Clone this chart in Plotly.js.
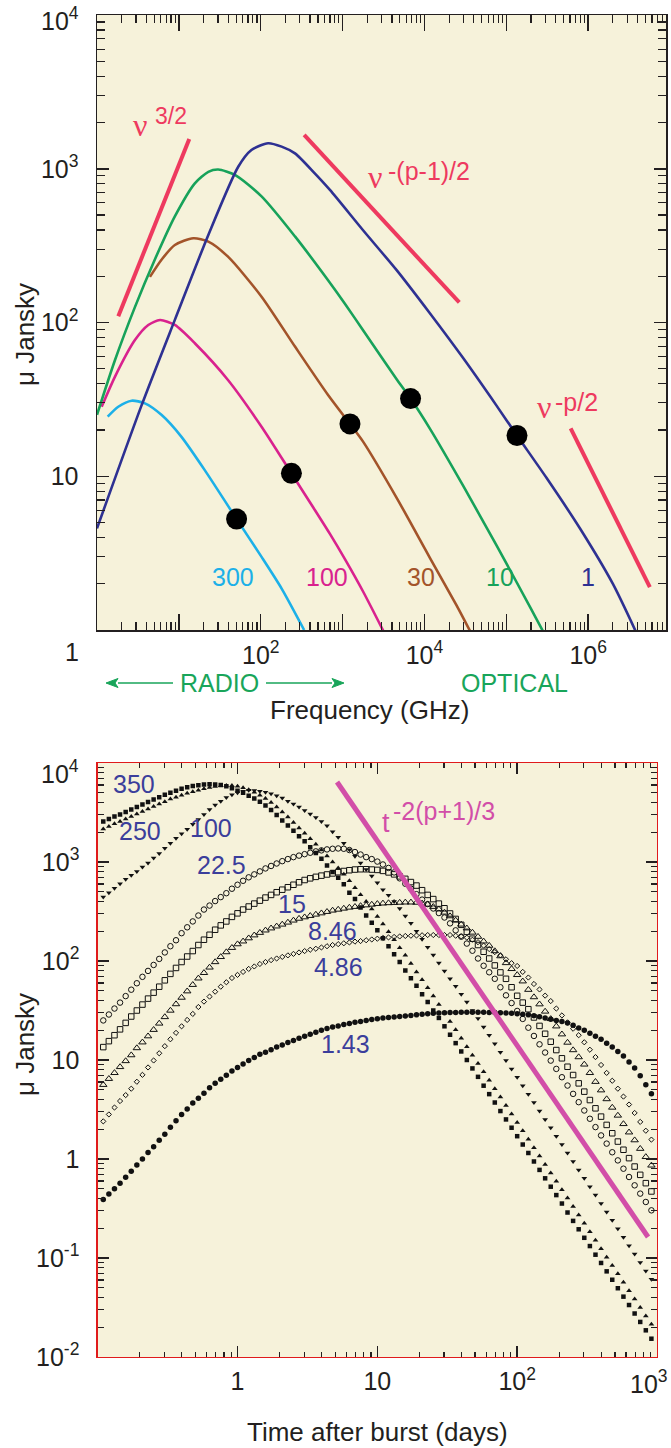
<!DOCTYPE html>
<html><head><meta charset="utf-8">
<script src="https://cdn.plot.ly/plotly-3.0.1.min.js"></script>
<style>html,body{margin:0;padding:0;background:#fff}#chart{width:671px;height:1448px}</style>
</head><body><div id="chart"></div>
<script>
// ===== Top panel: spectra (frequency in GHz, flux in micro-Jansky) =====
const nu_day1   = [1.0, 3.51, 8.93, 22.9, 53.1, 76.9, 123, 180, 262, 457, 700, 1778, 4571, 11640, 29510, 75860, 134900, 309000, 794300, 1995000, 3890000];
const flux_day1 = [4.58, 29.0, 104, 371, 1030, 1324, 1466, 1393, 1259, 933, 728, 398, 219, 114.8, 58.9, 28.8, 18.4, 9.77, 4.57, 2.0, 0.955];
const nu_day10   = [1.0, 1.66, 2.904, 5.09, 8.93, 15.67, 22.9, 30.2, 48.4, 102.3, 262, 661, 1072, 1778, 4571, 6761, 11640, 29510, 75860, 195000, 323600];
const flux_day10 = [25.1, 57.0, 125.9, 257, 490, 804, 955, 989, 912, 661, 363, 189, 132, 89.1, 42.7, 32.0, 20.4, 8.71, 3.55, 1.41, 0.85];
const nu_day30   = [4.43, 6.17, 8.93, 15.0, 22.9, 39.8, 102.3, 262, 661, 1230, 1778, 4571, 11640, 24550, 39810];
const flux_day30 = [198, 257, 319, 353, 336, 268, 147.2, 69.7, 33.9, 21.9, 16.8, 7.24, 2.95, 1.45, 0.89];
const nu_day100   = [1.14, 1.66, 2.904, 4.23, 5.89, 8.93, 15.67, 39.8, 102.3, 237, 417, 700, 1072, 1778, 3162];
const flux_day100 = [28.3, 44.5, 76.9, 96.4, 103.8, 96.4, 73.3, 42.3, 21.0, 10.45, 6.53, 4.22, 2.88, 1.78, 0.98];
const nu_day300   = [1.35, 1.82, 2.65, 3.85, 6.17, 10.7, 20.7, 50.7, 102.3, 180, 339];
const flux_day300 = [24.4, 28.3, 31.0, 29.8, 25.0, 18.1, 10.96, 5.27, 2.99, 1.86, 1.0];
const dot_nu   = [50.7, 237, 1230, 6761, 134900];
const dot_flux = [5.27, 10.45, 21.9, 32.0, 18.4];
const slope_thick_nu = [1.82, 13.4],      slope_thick_flux = [110, 1560];
const slope_thin_nu  = [339, 26600],      slope_thin_flux  = [1660, 135];
const slope_cool_nu  = [610000, 5660000], slope_cool_flux  = [20.5, 1.90];
const curve_labels = ['300', '100', '30', '10', '1'];

// ===== Bottom panel: light curves (days, micro-Jansky) =====
const t_days = [0.1096,0.1202,0.1318,0.1445,0.1585,0.1738,0.1905,0.2089,0.2291,0.2512,0.2754,0.3020,0.3311,0.3631,0.3981,0.4365,0.4786,0.5248,0.5754,0.6310,0.6918,0.7586,0.8318,0.9120,
 1.000,1.096,1.202,1.318,1.445,1.585,1.738,1.905,2.089,2.291,2.512,2.754,3.020,3.311,3.631,3.981,4.365,4.786,5.248,5.754,6.310,6.918,7.586,8.318,9.120,
 10.00,10.96,12.02,13.18,14.45,15.85,17.38,19.05,20.89,22.91,25.12,27.54,30.20,33.11,36.31,39.81,43.65,47.86,52.48,57.54,63.10,69.18,75.86,83.18,91.20,
 100.0,109.6,120.2,131.8,144.5,158.5,173.8,190.5,208.9,229.1,251.2,275.4,302.0,331.1,363.1,398.1,436.5,478.6,524.8,575.4,631.0,691.8,758.6,831.8,912.0];
const f_350 = [2570,2720,2880,3020,3200,3390,3590,3800,4030,4270, 4520,4790,5010,5250,5500,5690,5850,5970,6050,6100,
 6070,5980,5820,5560,5250,5010,4680,4370,4070,3720, 3350,2990,2630,2340,2070,1820,1620,1410,1230,1080,
 923,794,692,596,490,422,347,288,243,204, 170,141,117,97.7,80.4,66.8,56.2,46.2,38.5,31.6,
 26.6,21.9,18.0,14.8,12.2,10.0,8.22,6.76,5.50,4.52, 3.72,3.05,2.51,2.07,1.70,1.40,1.15,0.944,0.776,0.638,
 0.525,0.432,0.355,0.288,0.237,0.195,0.160,0.132,0.108,0.0891, 0.0733,0.0603,0.0495,0.0407,0.0335,0.0275,0.0226,0.0186,0.0153];
const f_250 = [2160,2290,2430,2570,2720,2880,3050,3240,3430,3630, 3850,4070,4320,4520,4730,4950,5130,5310,5500,5650,
 5780,5890,5940,5920,5820,5620,5370,5070,4730,4370, 3980,3590,3200,2850,2510,2210,1950,1720,1510,1320,
 1150,1000,871,750,646,550,468,398,335,282, 237,197,164,136,114,94.4,77.6,64.6,53.7,44.2,
 36.3,29.9,24.5,20.2,16.6,13.6,11.2,9.23,7.59,6.24, 5.13,4.22,3.47,2.85,2.34,1.93,1.58,1.30,1.07,0.881,
 0.724,0.596,0.490,0.403,0.331,0.272,0.224,0.184,0.151,0.124, 0.102,0.0841,0.0692,0.0569,0.0468,0.0385,0.0316,0.0260,0.0214];
const f_100 = [442,490,543,603,668,733,804,891,977,1100, 1220,1380,1550,1740,1930,2140,2400,2690,3020,3390,
 3760,4120,4470,4790,5010,5190,5310,5270,5190,5050, 4880,4660,4420,4120,3850,3590,3310,3050,2820,2570,
 2320,2020,1780,1550,1330,1140,977,841,724,617, 525,462,398,339,285,240,200,166,138,115,
 95.5,79.4,66.1,55.6,46.2,38.5,31.6,26.3,21.6,17.8, 14.6,12.0,9.89,8.13,6.68,5.50,4.52,3.72,3.05,2.51,
 2.07,1.70,1.40,1.15,0.944,0.776,0.638,0.525,0.432,0.355, 0.292,0.240,0.197,0.162,0.133,0.110,0.0902,0.0741,0.0610];
const f_22_5 = [25.1,28.8,33.1,38.0,44.2,51.3,59.6,69.2,79.4,91.2, 105,122,141,162,191,219,251,288,331,363,
 403,442,484,537,589,646,700,750,804,861, 912,966,1020,1070,1120,1160,1200,1240,1280,1310,
 1340,1360,1370,1360,1320,1260,1190,1120,1070,1010, 944,871,785,684,603,537,473,417,376,339,
 305,275,240,204,176,150,127,106,89.5,76.9, 66.1,54.3,45.0,37.6,31.3,26.0,21.2,17.5,14.4,11.9,
 9.86,8.13,6.70,5.52,4.55,3.75,3.09,2.55,2.10,1.73, 1.43,1.17,0.968,0.798,0.658,0.542,0.447,0.368,0.303];
const f_15 = [13.5,15.5,17.8,20.4,23.7,27.5,31.6,36.3,41.7,47.9, 55.0,63.8,74.1,85.1,97.7,111,126,145,164,184,
 207,229,251,279,303,331,355,380,407,437, 465,495,525,556,589,624,658,684,708,728,
 748,767,789,811,826,839,845,845,839,832, 813,785,750,716,676,627,578,519,465,422,
 380,341,302,266,232,197,168,145,124,106, 90.2,76.7,66.1,54.3,44.5,38.0,32.6,26.9,22.1,18.4,
 15.3,12.6,10.4,8.55,7.05,5.81,4.79,3.94,3.25,2.68, 2.21,1.82,1.50,1.24,1.02,0.839,0.692,0.570,0.470];
const f_8_46 = [5.62,6.46,7.41,8.51,9.77,11.2,13.2,15.1,17.4,20.2, 23.4,27.2,31.6,36.7,42.7,49.5,57.5,66.8,75.9,86.1,
 97.7,110,123,136,148,158,170,182,193,204, 214,224,234,245,257,268,277,286,295,304,
 314,324,331,339,347,353,360,366,372,378, 382,385,387,389,391,391,389,382,372,353,
 333,309,284,257,234,214,194,176,158,143, 126,112,95.5,83.2,72.4,62.4,51.3,43.2,36.6,30.9,
 26.0,21.9,18.2,15.0,12.6,10.7,9.02,7.41,6.03,4.95, 4.03,3.31,2.75,2.26,1.86,1.55,1.27,1.05,0.861];
const f_4_86 = [2.40,2.82,3.31,3.85,4.42,5.13,6.03,7.08,8.41,9.89, 11.7,13.8,16.2,18.8,21.9,25.4,29.2,34.3,38.9,43.7,
 49.0,55.0,61.0,67.3,72.4,77.6,83.2,88.1,93.3,97.7, 102,106,110,114,118,122,126,130,133,137,
 141,145,148,151,154,157,159,162,165,168, 171,173,175,177,179,180,181,182,183,183,
 183,183,183,180,177,172,164,155,143,132, 123,114,104,95.1,89.1,77.6,68.1,58.6,51.6,44.7,
 39.4,33.1,28.2,24.0,20.7,17.8,15.1,12.7,10.7,8.91, 7.41,6.17,5.13,4.27,3.55,2.92,2.37,1.93,1.57];
const f_1_43 = [0.389,0.442,0.501,0.569,0.653,0.750,0.871,1.00,1.16,1.33, 1.55,1.78,2.09,2.43,2.82,3.20,3.67,4.12,4.62,5.25,
 5.82,6.38,7.00,7.76,8.41,9.12,9.89,10.6,11.4,12.0, 12.7,13.5,14.2,15.0,15.7,16.6,17.4,18.2,19.1,20.0,
 20.8,21.5,22.1,22.8,23.4,24.0,24.5,25.1,25.6,26.1, 26.5,26.9,27.2,27.5,27.9,28.2,28.6,29.0,29.4,29.6,
 29.9,30.0,30.1,30.2,30.3,30.3,30.3,30.3,30.3,30.2, 30.1,30.0,29.9,29.6,29.3,29.0,28.6,28.0,27.3,26.5,
 25.8,25.1,24.5,23.7,22.4,21.1,20.0,18.6,17.4,16.2, 14.8,13.5,12.2,11.0,9.55,8.32,6.92,5.62,4.57];
const decay_t = [5.15, 863], decay_flux = [6430, 0.163];
const freq_labels = ['350', '250', '100', '22.5', '15', '8.46', '4.86', '1.43'];

// ===== styling =====
const W = 671, H = 1448;
const FONT = 'Liberation Sans, Arial, Helvetica, sans-serif';
const SERIF = 'Liberation Serif, Times New Roman, serif';
const INK = '#231f20', CREAM = '#f6f2da', FRAME_RED = '#e01b1b';
const C1 = '#2e3192', C10 = '#17a25a', C30 = '#a3542a', C100 = '#d9228e', C300 = '#1cb0e8';
const RED = '#ee3a5f', GREEN_T = '#19a55a', NAVY_T = '#3b3e9b', PINK = '#d24ea8';
const PX = x => x / W, PY = y => 1 - y / H;

function curve(x, y, color, w) {
  return {x, y, mode: 'lines', line: {color, width: w, shape: 'spline', smoothing: 0.7},
          xaxis: 'x', yaxis: 'y', hoverinfo: 'skip'};
}
function straight(x, y, color, w, xa, ya) {
  return {x, y, mode: 'lines', line: {color, width: w}, xaxis: xa, yaxis: ya, hoverinfo: 'skip'};
}
function pts(y, symbol, size, lw) {
  return {x: t_days, y, mode: 'markers', xaxis: 'x2', yaxis: 'y2', hoverinfo: 'skip',
          marker: {symbol, size, color: '#111', line: {color: '#111', width: lw}}};
}

const traces = [
  straight(slope_thick_nu, slope_thick_flux, RED, 4, 'x3', 'y'),
  straight(slope_thin_nu, slope_thin_flux, RED, 4, 'x3', 'y'),
  straight(slope_cool_nu, slope_cool_flux, RED, 4, 'x3', 'y'),
  curve(nu_day300, flux_day300, C300, 2.6),
  curve(nu_day100, flux_day100, C100, 2.6),
  curve(nu_day30, flux_day30, C30, 2.6),
  curve(nu_day10, flux_day10, C10, 2.6),
  curve(nu_day1, flux_day1, C1, 2.6),
  {x: dot_nu, y: dot_flux, mode: 'markers', xaxis: 'x', yaxis: 'y', hoverinfo: 'skip',
   marker: {size: 21, color: '#000'}},
  pts(f_350, 'square', 4.5, 0),
  pts(f_250, 'triangle-up', 5, 0),
  pts(f_100, 'triangle-down', 5, 0),
  pts(f_22_5, 'circle-open', 5.5, 1),
  pts(f_15, 'square-open', 5.5, 1),
  pts(f_8_46, 'triangle-up-open', 6.5, 1),
  pts(f_4_86, 'diamond-open', 4, 1),
  pts(f_1_43, 'circle', 5.5, 0),
  straight(decay_t, decay_flux, PINK, 5, 'x2', 'y2')
];

const base = {type: 'log', showgrid: false, zeroline: false, showline: true, ticks: 'inside',
  mirror: 'ticks', tickmode: 'array', tickfont: {family: FONT, size: 25, color: INK},
  tickcolor: INK, tickwidth: 1.5, fixedrange: true};
const TOPX = [PX(97), PX(666)];

const layout = {
  width: W, height: H, margin: {l: 0, r: 0, t: 0, b: 0},
  paper_bgcolor: '#ffffff', plot_bgcolor: CREAM, showlegend: false,
  font: {family: FONT, color: INK},
  xaxis: Object.assign({}, base, {domain: TOPX, range: [0, 6.95], anchor: 'y',
    tickvals: [100, 1e4, 1e6],
    ticktext: ['10<sup>2</sup>', '10<sup>4</sup>', '10<sup>6</sup>'],
    ticklen: 16, linecolor: INK, linewidth: 1.5, ticklabelstandoff: 2,
    minor: {dtick: 'D1', ticks: 'inside', ticklen: 8, tickwidth: 1.2, tickcolor: INK}}),
  // unlabelled decade ticks of the top panel
  xaxis3: Object.assign({}, base, {domain: TOPX, range: [0, 6.95], anchor: 'y', overlaying: 'x',
    tickvals: [10, 1e3, 1e5], showticklabels: false,
    ticklen: 16, linecolor: INK, linewidth: 1.5}),
  yaxis: Object.assign({}, base, {domain: [PY(630), PY(15)], range: [0, 4], anchor: 'x',
    tickvals: [10, 100, 1e3],
    ticktext: ['10', '10<sup>2</sup>', '10<sup>3</sup>'],
    ticklen: 12, linecolor: INK, linewidth: 1.5, ticklabelstandoff: 12,
    minor: {dtick: 'D1', ticks: 'inside', ticklen: 8, tickwidth: 1.2, tickcolor: INK}}),
  xaxis2: Object.assign({}, base, {domain: [PX(97.7), PX(657)], range: [-1, 3], anchor: 'y2',
    tickvals: [1, 10, 100],
    ticktext: ['1', '10', '10<sup>2</sup>'],
    ticklen: 11, linecolor: FRAME_RED, linewidth: 1.3, ticklabelstandoff: 2,
    minor: {dtick: 'D1', ticks: 'inside', ticklen: 5, tickwidth: 1.2, tickcolor: INK}}),
  yaxis2: Object.assign({}, base, {domain: [PY(1357), PY(763)], range: [-2, 4], anchor: 'x2',
    tickvals: [0.01, 0.1, 1, 10, 100, 1e3],
    ticktext: ['10<sup>-2</sup>', '10<sup>-1</sup>', '1', '10', '10<sup>2</sup>', '10<sup>3</sup>'],
    ticklen: 11, linecolor: FRAME_RED, linewidth: 1.3, ticklabelstandoff: 12,
    minor: {dtick: 'D1', ticks: 'inside', ticklen: 6, tickwidth: 1.2, tickcolor: INK}}),
  annotations: [],
  shapes: []
};

function A(text, x, y, color, size, extra) {
  layout.annotations.push(Object.assign({text, x: PX(x), y: PY(y), xref: 'paper', yref: 'paper',
    showarrow: false, xanchor: 'center', yanchor: 'middle',
    font: {family: FONT, size, color}}, extra || {}));
}
// tick labels at the panel corners (kept inside the picture)
A('10<sup>4</sup>', 81, 19, INK, 25, {xanchor: 'right'});
A('1', 72, 652, INK, 25);
A('10<sup>4</sup>', 81, 772, INK, 25, {xanchor: 'right'});
A('10<sup>3</sup>', 670, 1382, INK, 25, {xanchor: 'right'});
// top panel texts
A('ν', 140, 125, RED, 32, {font: {family: SERIF, size: 32, color: RED}});
A('3/2', 171, 116, RED, 23);
A('ν', 375, 177, RED, 32, {font: {family: SERIF, size: 32, color: RED}});
A('-(p-1)/2', 429, 171, RED, 25);
A('ν', 544, 407, RED, 32, {font: {family: SERIF, size: 32, color: RED}});
A('-p/2', 576, 402, RED, 25);
const labelX = [233, 327, 421, 500, 588];
const labelC = [C300, C100, C30, C10, C1];
curve_labels.forEach((s, i) => A(s, labelX[i], 577, labelC[i], 25));
A('RADIO', 219, 683, GREEN_T, 25);
A('OPTICAL', 514, 683, GREEN_T, 25);
// RADIO arrows drawn as shapes
function arrow(tailX, tipX, y) {
  const dir = tipX < tailX ? -1 : 1;
  const baseX = tipX - dir * 12;
  layout.shapes.push({type: 'line', xref: 'paper', yref: 'paper', x0: PX(tailX), x1: PX(baseX),
    y0: PY(y), y1: PY(y), line: {color: GREEN_T, width: 1.6}});
  layout.shapes.push({type: 'path', xref: 'paper', yref: 'paper', fillcolor: GREEN_T,
    line: {color: GREEN_T, width: 1},
    path: `M ${PX(tipX)} ${PY(y)} L ${PX(baseX)} ${PY(y - 4.5)} L ${PX(baseX + dir * 3)} ${PY(y)} L ${PX(baseX)} ${PY(y + 4.5)} Z`});
}
arrow(173, 106, 683);
arrow(266, 344, 683);
A('Frequency (GHz)', 369, 710, INK, 26);
A('μ Jansky', 25, 335, INK, 26, {textangle: -90});
// bottom panel texts
const fx = [134, 140, 211, 222, 292, 332, 339, 345];
const fy = [784, 831, 828, 865, 904, 931, 967, 1044];
freq_labels.forEach((s, i) => A(s, fx[i], fy[i], NAVY_T, 25));
A('t', 386, 823, PINK, 27);
A('-2(p+1)/3', 444, 811, PINK, 25);
A('Time after burst (days)', 377, 1432, INK, 26);
A('μ Jansky', 25, 1045, INK, 26, {textangle: -90});

Plotly.newPlot('chart', traces, layout, {staticPlot: true, displayModeBar: false});
</script>
</body></html>
